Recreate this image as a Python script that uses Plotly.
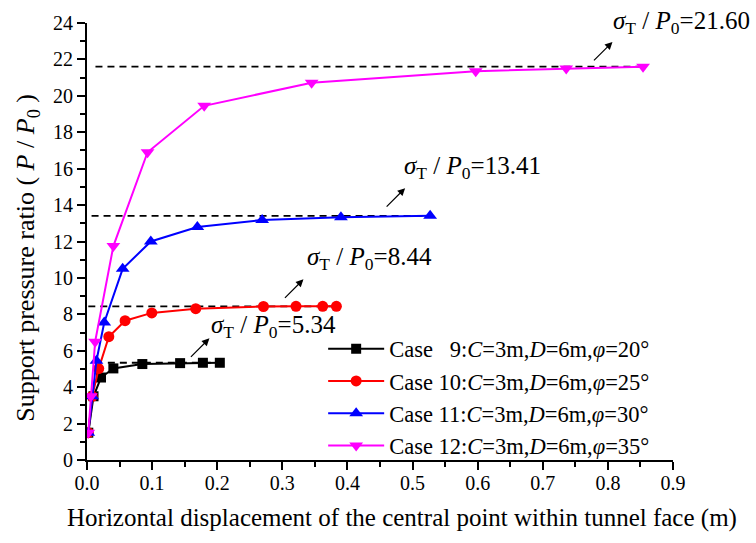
import plotly.graph_objects as go

# Horizontal displacement (m) vs support pressure ratio P/P0 for each case
case9_x = [0.002, 0.010, 0.0215, 0.0405, 0.085, 0.143, 0.178, 0.204]
case9_y = [1.50, 3.50, 4.53, 5.03, 5.27, 5.32, 5.34, 5.34]

case10_x = [0.002, 0.008, 0.018, 0.0335, 0.0585, 0.0995, 0.167, 0.271, 0.321, 0.362, 0.383]
case10_y = [1.50, 3.50, 5.02, 6.77, 7.65, 8.08, 8.31, 8.43, 8.44, 8.44, 8.44]

case11_x = [0.002, 0.008, 0.0145, 0.0265, 0.0548, 0.098, 0.1695, 0.269, 0.390, 0.527]
case11_y = [1.50, 3.50, 5.45, 7.55, 10.50, 12.00, 12.80, 13.18, 13.33, 13.41]

case12_x = [0.002, 0.006, 0.0125, 0.0405, 0.093, 0.180, 0.345, 0.597, 0.736, 0.854]
case12_y = [1.50, 3.50, 6.50, 11.75, 16.90, 19.45, 20.72, 21.35, 21.50, 21.60]

case_names = [
    "Case\u00a0\u00a0\u00a09:<i>C</i>=3m,<i>D</i>=6m,<i>φ</i>=20°",
    "Case 10:<i>C</i>=3m,<i>D</i>=6m,<i>φ</i>=25°",
    "Case 11:<i>C</i>=3m,<i>D</i>=6m,<i>φ</i>=30°",
    "Case 12:<i>C</i>=3m,<i>D</i>=6m,<i>φ</i>=35°",
]
case_colors = ["#000000", "#FF0000", "#0000FF", "#FF00FF"]
case_symbols = ["square", "circle", "triangle-up", "triangle-down"]
case_sizes = [10, 11, 12, 12]

# Limit ratio sigma_T / P0 for each case and the extent of its dashed guide
limit_ratio = [5.34, 8.44, 13.41, 21.60]
limit_x0 = [0.032, 0.002, 0.007, 0.013]
limit_x1 = [0.205, 0.383, 0.527, 0.855]
# label anchor in paper units, and arrow head position in data units
label_px = [0.209, 0.372, 0.5375, 1.135]
label_py = [0.305, 0.461, 0.670, 1.002]
label_anchor = ["left", "left", "left", "right"]
arrow_x = [0.188, 0.3324, 0.4886, 0.807]
arrow_y = [6.68, 9.92, 14.93, 22.96]

FONT = "Liberation Serif, Times New Roman, serif"

fig = go.Figure()

series = [(case9_x, case9_y), (case10_x, case10_y), (case11_x, case11_y), (case12_x, case12_y)]
for (xs, ys), name, col, sym, sz in zip(series, case_names, case_colors, case_symbols, case_sizes):
    fig.add_trace(go.Scatter(
        x=xs, y=ys, mode="lines+markers", name=name,
        line=dict(color=col, width=2),
        marker=dict(symbol=sym, size=sz, color=col),
    ))

shapes = []
annotations = []
for r, x0, x1, lx, ly, anc, axx, ayy in zip(limit_ratio, limit_x0, limit_x1, label_px, label_py,
                                             label_anchor, arrow_x, arrow_y):
    shapes.append(dict(type="line", xref="x", yref="y", x0=x0, x1=x1, y0=r, y1=r,
                       line=dict(color="black", width=1.8, dash="7px,5px"), layer="below"))
    annotations.append(dict(
        x=lx, y=ly, xref="paper", yref="paper", xanchor=anc, yanchor="middle",
        text=f"<i>σ</i><sub>T</sub> / <i>P</i><sub>0</sub>={r:.2f}",
        showarrow=False, font=dict(family=FONT, size=25, color="black"),
    ))
    annotations.append(dict(
        x=axx, y=ayy, xref="x", yref="y", text="", showarrow=True,
        ax=-20, ay=20, arrowhead=2, arrowsize=1.25, arrowwidth=1.2, arrowcolor="black",
        standoff=0, startstandoff=0,
    ))

# Axis titles
annotations.append(dict(
    x=0.5375, y=-0.1326, xref="paper", yref="paper", xanchor="center", yanchor="middle",
    text="Horizontal displacement of the central point within tunnel face (m)",
    showarrow=False, font=dict(family=FONT, size=25, color="black"),
))
annotations.append(dict(
    x=-0.1024, y=0.463, xref="paper", yref="paper", xanchor="center", yanchor="middle",
    text="Support pressure ratio ( <i>P</i> / <i>P</i><sub>0</sub> )", textangle=-90,
    showarrow=False, font=dict(family=FONT, size=26, color="black"),
))

axis_common = dict(
    showline=True, linecolor="black", linewidth=2, mirror=False,
    ticks="outside", ticklen=8, tickwidth=2, tickcolor="black",
    showgrid=False, zeroline=False,
    tickfont=dict(family=FONT, size=20, color="black"),
)

fig.update_layout(
    width=756, height=543,
    margin=dict(l=87, r=83, t=15, b=83),
    paper_bgcolor="white", plot_bgcolor="white",
    font=dict(family=FONT, color="black"),
    shapes=shapes, annotations=annotations,
    xaxis=dict(
        range=[0, 0.9], dtick=0.1, tickformat=".1f", ticklabelstandoff=-4,
        minor=dict(ticks="outside", ticklen=5, tickwidth=2, tickcolor="black", dtick=0.05),
        **axis_common,
    ),
    yaxis=dict(
        range=[0, 24], dtick=2,
        minor=dict(ticks="outside", ticklen=5, tickwidth=2, tickcolor="black", dtick=1),
        **axis_common,
    ),
    legend=dict(
        x=0.403, y=0.303, xanchor="left", yanchor="top",
        bgcolor="rgba(0,0,0,0)", borderwidth=0,
        font=dict(family=FONT, size=22.5, color="black"),
        itemwidth=56, tracegroupgap=0,
    ),
)

fig.write_html("out.html")
